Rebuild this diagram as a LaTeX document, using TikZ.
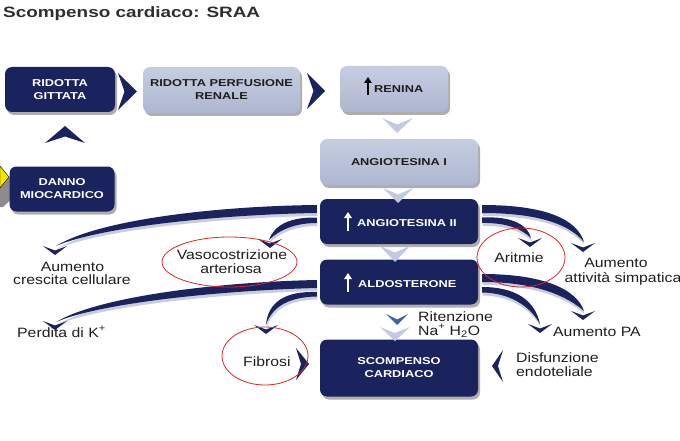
\documentclass[tikz,border=0pt]{standalone}
\usepackage{fontspec}
\setmainfont{Liberation Sans}
\newfontfamily\labf[FakeStretch=1.17]{Liberation Sans}
\newfontfamily\boxf[FakeStretch=1.28]{Liberation Sans}
\newfontfamily\titf[FakeStretch=1.26]{Liberation Sans}
\usetikzlibrary{calc,shapes.geometric,arrows.meta,shadows}
\definecolor{navy}{HTML}{1B235E}
\definecolor{lighttop}{HTML}{C6CDE1}
\definecolor{lightbot}{HTML}{AEB7D0}
\definecolor{lightchev}{HTML}{C2CADF}
\definecolor{midchev}{HTML}{3F5FA6}
\definecolor{ringred}{HTML}{E0232B}
\definecolor{ribsh}{HTML}{CBCED9}
\definecolor{txt}{HTML}{1E1E1E}
\definecolor{titc}{HTML}{2E2E2E}
\definecolor{yel}{HTML}{F2E400}
\pgfdeclarelayer{bg}
\pgfsetlayers{bg,main}
\newcommand\ribbonpath[1]{\fill[ribsh,transform canvas={shift={(0.5,3)}}] #1; \fill[navy] #1;}
\begin{document}
\begin{tikzpicture}[x=1pt,y=-1pt,
 boxbase/.style={rectangle, rounded corners=7pt, inner sep=0pt, align=center,
   font=\boxf\bfseries\fontsize{10}{13}\selectfont,
   drop shadow={shadow xshift=2pt, shadow yshift=-3pt, opacity=.45, fill=black!70}},
 darkbox/.style={boxbase, fill=navy, text=white},
 lightbx/.style={boxbase, top color=lighttop, bottom color=lightbot, text=txt},
 btext/.style={font=\boxf\bfseries\fontsize{10}{13}\selectfont, inner sep=0pt, anchor=base west},
 lbl/.style={font=\labf\fontsize{13.5}{14}\selectfont, text=txt, inner sep=0pt, anchor=base},
 lblw/.style={lbl, anchor=base west},
 ring/.style={draw=ringred, line width=0.8pt, ellipse, inner sep=0pt},
 vtip/.pic={\fill[navy] (-12,-9) -- (0,0) -- (12,-9) -- (0,-4.5) -- cycle;},
 uparr/.style={line width=2.3pt, -{Triangle[length=6pt,width=7.5pt]}},
]
\useasboundingbox (0,0) rectangle (680,441);

% title
\node[font=\titf\bfseries\fontsize{15}{18}\selectfont, text=titc, anchor=base west, inner sep=0pt] (title) at (3,17.5) {Scompenso cardiaco: SRAA};

% yellow marker at left
\fill[black!45] (0,187) -- (9,177) -- (15,184) -- (15,196) -- (3,207) -- (0,207) -- cycle;
\filldraw[fill=yel, draw=black, line width=0.4pt] (0,166) -- (9,177) -- (0,188) -- cycle;

% boxes
\node[darkbox, minimum width=110, minimum height=45] (gitt) at (60,89.5) {RIDOTTA\\GITTATA};
\node[lightbx, minimum width=157, minimum height=46] (perf) at (221.5,90) {RIDOTTA PERFUSIONE\\RENALE};
\node[lightbx, minimum width=108, minimum height=46] (ren) at (394,89) {};
\node[lightbx, minimum width=158, minimum height=46] (ang1) at (399,162) {ANGIOTESINA I};
\node[darkbox, minimum width=158, minimum height=45] (ang2) at (399,221.5) {};
\node[darkbox, minimum width=158, minimum height=45] (aldo) at (399,282) {};
\node[darkbox, minimum width=158, minimum height=57] (scomp) at (399,368) {SCOMPENSO\\CARDIACO};
\node[darkbox, minimum width=105, minimum height=45] (danno) at (62,189) {DANNO\\MIOCARDICO};

% box texts with up arrows
\node[btext, text=txt] (rent) at (374,93) {RENINA};
\draw[uparr, black] ($(rent.base west)+(-6,2)$) -- ++(0,-18);
\node[btext, text=white] (ang2t) at (357,226) {ANGIOTESINA II};
\draw[uparr, white] ($(ang2t.base west)+(-9,5)$) -- ++(0,-19);
\node[btext, text=white] (aldot) at (358,287) {ALDOSTERONE};
\draw[uparr, white] ($(aldot.base west)+(-10,5)$) -- ++(0,-19);

% chevrons between boxes
\fill[navy] (118,73) -- (137,91.5) -- (118,110) -- (124.5,91.5) -- cycle;
\fill[navy] (307,73) -- (325,91) -- (307,109) -- (313.5,91) -- cycle;
\fill[navy] (45,143) -- (65,126) -- (85,143) -- (65,136.5) -- cycle;
\fill[lightchev] (382,118) -- (397,133) -- (413,118) -- (397,124.5) -- cycle;
\fill[lightchev] (383,188) -- (398,203) -- (413,188) -- (398,194.5) -- cycle;
\fill[lightchev] (380,246) -- (395,262) -- (410,246) -- (395,252.5) -- cycle;
\fill[midchev] (386,314) -- (397,325) -- (408,314) -- (397,319.5) -- cycle;
\fill[lightchev] (380,327) -- (395,341) -- (410,327) -- (395,333) -- cycle;
\fill[navy] (503,350) -- (492,366) -- (503,382) -- (498,366) -- cycle;
\fill[navy] (296,348) -- (309,364) -- (296,380) -- (301,364) -- cycle;

% ribbon arrows
\coordinate (e1) at (56,246);  \coordinate (t1) at (55,255);
\coordinate (e2) at (269,240); \coordinate (t2) at (270,248);
\coordinate (e3) at (56,322);  \coordinate (t3) at (55,330);
\coordinate (e4) at (266,325); \coordinate (t4) at (266,334);
\coordinate (e5) at (584,242); \coordinate (t5) at (583,252);
\coordinate (e6) at (531,238); \coordinate (t6) at (530,247);
\coordinate (e7) at (584,311); \coordinate (t7) at (583,320);
\coordinate (e8) at (540,324); \coordinate (t8) at (540,333);
\begin{pgfonlayer}{bg}
\ribbonpath{($(ang2.west)+(-3,-16.5)$) .. controls (220,206) and (100,219) .. (e1) .. controls (100,227) and (220,214.5) .. ($(ang2.west)+(-3,-8.5)$) -- cycle}
\ribbonpath{($(ang2.west)+(-3,-4)$) .. controls (290,217) and (274,225) .. (e2) .. controls (279,230) and (295,223) .. ($(ang2.west)+(-3,1.5)$) -- cycle}
\ribbonpath{($(aldo.west)+(-3,-2)$) .. controls (220,282) and (100,296) .. (e3) .. controls (100,303) and (220,290.5) .. ($(aldo.west)+(-3,6)$) -- cycle}
\ribbonpath{($(aldo.west)+(-3,10)$) .. controls (285,291) and (268,302) .. (e4) .. controls (272,306) and (290,297) .. ($(aldo.west)+(-3,14.5)$) -- cycle}
\ribbonpath{($(ang2.east)+(4,-16.5)$) .. controls (545,205) and (577,219) .. (e5) .. controls (570,225) and (540,213) .. ($(ang2.east)+(4,-8.5)$) -- cycle}
\ribbonpath{($(ang2.east)+(4,-4)$) .. controls (512,216) and (528,225) .. (e6) .. controls (522,229) and (506,222.5) .. ($(ang2.east)+(4,1.5)$) -- cycle}
\ribbonpath{($(aldo.east)+(4,-8)$) .. controls (545,274) and (577,290) .. (e7) .. controls (568,297) and (538,282) .. ($(aldo.east)+(4,0)$) -- cycle}
\ribbonpath{($(aldo.east)+(4,5)$) .. controls (515,287) and (535,300) .. (e8) .. controls (530,306) and (510,293) .. ($(aldo.east)+(4,10.5)$) -- cycle}
\end{pgfonlayer}
\foreach \t in {t1,t2,t3,t4,t5,t6,t7,t8} { \pic at (\t) {vtip}; }

% labels
\node[lbl] (cres1) at (72.5,271) {Aumento};
\node[lbl] (cres2) at (72,284.5) {crescita cellulare};
\node[lbl] (vaso1) at (232,259.5) {Vasocostrizione};
\node[lbl] (vaso2) at (231,273) {arteriosa};
\node[lblw] (perd) at (17,337) {Perdita di K\textsuperscript{+}};
\node[lblw] (fib) at (243,366) {Fibrosi};
\node[lbl] (arit) at (519,262) {Aritmie};
\node[lbl] (simp1) at (616,267) {Aumento};
\node[lbl] (simp2) at (623,282) {attività simpatica};
\node[lblw] (rit1) at (418,321) {Ritenzione};
\node[lblw] (rit2) at (418,335) {Na\textsuperscript{+} H\textsubscript{2}O};
\node[lblw] (pa) at (553,336) {Aumento PA};
\node[lblw] (disf1) at (516,362) {Disfunzione};
\node[lblw] (disf2) at (516,376) {endoteliale};

% red rings
\node[ring, minimum width=135, minimum height=50] (vasoR) at (229.5,262) {};
\node[ring, minimum width=88, minimum height=59] (aritR) at (521,257.5) {};
\node[ring, minimum width=86, minimum height=58] (fibR) at (265,356) {};
\end{tikzpicture}
\end{document}
